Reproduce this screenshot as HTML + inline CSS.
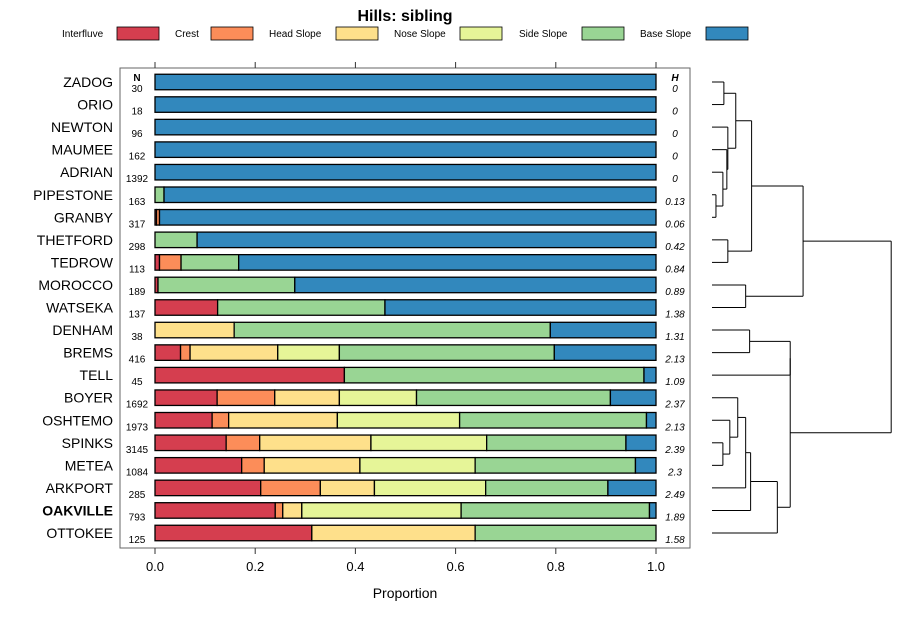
<!DOCTYPE html>
<html><head><meta charset="utf-8"><style>
body{margin:0;background:#fff;}
svg{display:block;font-family:"Liberation Sans",sans-serif;}
</style></head><body>
<svg id="chart" width="900" height="620" viewBox="0 0 900 620">
<text x="405" y="21" text-anchor="middle" font-size="16" font-weight="bold">Hills: sibling</text>
<g id="legend"></g>
<rect x="120" y="68" width="570" height="480" fill="none" stroke="#666" stroke-width="1"/>
<g id="axes"></g>
<g id="bars"></g>
<g id="dendro"></g>
<text x="137" y="81" text-anchor="middle" font-size="10" font-weight="bold">N</text>
<text x="675" y="81" text-anchor="middle" font-size="10" font-weight="bold" font-style="italic">H</text>
<text x="405" y="598" text-anchor="middle" font-size="14">Proportion</text>
</svg>
<script>
const classes=["Interfluve","Crest","Head Slope","Nose Slope","Side Slope","Base Slope"];
const colors=["#D53E4F","#FC8D59","#FEE08B","#E6F598","#99D594","#3288BD"];
const series=["ZADOG","ORIO","NEWTON","MAUMEE","ADRIAN","PIPESTONE","GRANBY","THETFORD","TEDROW","MOROCCO","WATSEKA","DENHAM","BREMS","TELL","BOYER","OSHTEMO","SPINKS","METEA","ARKPORT","OAKVILLE","OTTOKEE"];
const nValues=[30,18,96,162,1392,163,317,298,113,189,137,38,416,45,1692,1973,3145,1084,285,793,125];
const hValues=["0","0","0","0","0","0.13","0.06","0.42","0.84","0.89","1.38","1.31","2.13","1.09","2.37","2.13","2.39","2.3","2.49","1.89","1.58"];
// proportions: Interfluve, Crest, Head, Nose, Side, Base
const props=[
[0,0,0,0,0,1],[0,0,0,0,0,1],[0,0,0,0,0,1],[0,0,0,0,0,1],[0,0,0,0,0,1],
[0,0,0,0,0.018,0.982],
[0.003,0.006,0,0,0,0.991],
[0,0,0,0,0.084,0.916],
[0.009,0.043,0,0,0.115,0.833],
[0.006,0,0,0,0.273,0.721],
[0.125,0,0,0,0.334,0.541],
[0,0,0.158,0,0.631,0.211],
[0.051,0.019,0.175,0.123,0.429,0.203],
[0.378,0,0,0,0.598,0.024],
[0.124,0.115,0.129,0.154,0.387,0.091],
[0.114,0.033,0.217,0.244,0.373,0.019],
[0.142,0.067,0.222,0.231,0.278,0.060],
[0.173,0.045,0.191,0.230,0.320,0.041],
[0.211,0.119,0.108,0.222,0.244,0.096],
[0.240,0.015,0.038,0.318,0.376,0.013],
[0.313,0,0.326,0,0.361,0]
];
const xTicks=[0,0.2,0.4,0.6,0.8,1.0];
const xTickLabels=["0.0","0.2","0.4","0.6","0.8","1.0"];
// dendrogram merges: [leftIndex,rightIndex,height]; negative = leaf (-(i+1)), positive = merge number (1-based)
const merges=[
[-1,-2,0.12],      //1 ZADOG-ORIO
[-6,-7,0.04],      //2 PIPESTONE-GRANBY
[-5,2,0.11],       //3
[-4,3,0.15],       //4
[-3,4,0.16],       //5
[1,5,0.24],        //6
[-8,-9,0.16],      //7 THETFORD-TEDROW
[6,7,0.40],        //8
[-10,-11,0.34],    //9
[8,9,0.92],        //10
[-12,-13,0.38],    //11 DENHAM-BREMS
[11,-14,0.79],     //12
[-17,-18,0.11],    //13 SPINKS-METEA
[-16,13,0.18],     //14
[-15,14,0.26],     //15
[15,-19,0.34],     //16
[16,-20,0.39],     //17
[17,-21,0.66],     //18
[12,18,0.79],      //19
[10,19,1.81]       //20
];
const NS="http://www.w3.org/2000/svg";
function mk(tag,attrs,parent){const e=document.createElementNS(NS,tag);for(const k in attrs)e.setAttribute(k,attrs[k]);parent.appendChild(e);return e;}
const x0=155,x1=656;
const xs=v=>x0+(x1-x0)*v;
const rowY=i=>82+i*22.55;
const bh=15.5;
// legend
const legend=document.getElementById('legend');
const legendText=[62,175,269,394,519,640], legendBox=[117,211,336,460,582,706];
classes.forEach((c,i)=>{
  const t=mk('text',{x:legendText[i]+(i===0?0:0),y:37,'font-size':10},legend);t.textContent=c;
  
  
  const r=mk('rect',{x:legendBox[i],y:27,width:42,height:13,fill:colors[i],stroke:'#000','stroke-width':0.8},legend);
  
  
});
// axes
const axes=document.getElementById('axes');
xTicks.forEach((v,i)=>{
  const a=mk('line',{x1:xs(v),x2:xs(v),y1:548,y2:554,stroke:'#333'},axes);
  
  
  const b=mk('line',{x1:xs(v),x2:xs(v),y1:62,y2:68,stroke:'#333'},axes);
  
  
  const t=mk('text',{x:xs(v),y:571,'text-anchor':'middle','font-size':13},axes);t.textContent=xTickLabels[i];
  
  
});
// bars
const bars=document.getElementById('bars');
series.forEach((s,i)=>{
  const y=rowY(i);
  const lab=mk('text',{x:113,y:y+5,'text-anchor':'end','font-size':14,'font-weight':s==='OAKVILLE'?'bold':'normal'},bars);
  lab.textContent=s;
  
  
  const n=mk('text',{x:137,y:y+10,'text-anchor':'middle','font-size':10},bars);n.textContent=nValues[i];
  
  
  const h=mk('text',{x:675,y:y+10,'text-anchor':'middle','font-size':10,'font-style':'italic'},bars);h.textContent=hValues[i];
  
  
  let cum=0;
  props[i].forEach((p,k)=>{
    if(p<=0)return;
    const r=mk('rect',{x:xs(cum),y:y-bh/2,width:xs(cum+p)-xs(cum),height:bh,fill:colors[k],stroke:'#000','stroke-width':1.3},bars);
    
    
    cum+=p;
  });
});
// dendrogram
const dg=document.getElementById('dendro');
const leafX=712, hScale=99;
const dx=h=>leafX+h*hScale;
const nodes=[];
function info(ref){ if(ref<0) return {y:rowY(-ref-1),h:0}; return nodes[ref-1]; }
merges.forEach(m=>{
  const a=info(m[0]),b=info(m[1]);
  const X=dx(m[2]);
  const l1=mk('line',{x1:dx(a.h),x2:X,y1:a.y,y2:a.y,stroke:'#000','stroke-width':1},dg);
  
  
  const l2=mk('line',{x1:dx(b.h),x2:X,y1:b.y,y2:b.y,stroke:'#000','stroke-width':1},dg);
  
  
  const l3=mk('line',{x1:X,x2:X,y1:a.y,y2:b.y,stroke:'#000','stroke-width':1},dg);
  
  
  nodes.push({y:(a.y+b.y)/2,h:m[2]});
});
</script>
</body></html>
